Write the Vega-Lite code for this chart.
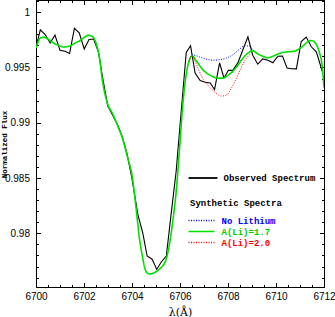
{
  "$schema": "https://vega.github.io/schema/vega-lite/v6.json",
  "autosize": {"type": "none"},
  "padding": {"left": 36, "top": 0, "right": 11, "bottom": 30},
  "width": 288,
  "height": 287,
  "background": "white",
  "config": {
    "view": {"stroke": "black", "strokeWidth": 1},
    "axis": {"grid": false, "domain": false, "tickColor": "black", "tickWidth": 1, "labelColor": "black", "titleColor": "black"}
  },
  "datasets": {
    "obs": [
      {"w": 6700.00, "f": 0.99683, "s": "Observed Spectrum"},
      {"w": 6700.18, "f": 0.99841, "s": "Observed Spectrum"},
      {"w": 6700.38, "f": 0.99798, "s": "Observed Spectrum"},
      {"w": 6700.59, "f": 0.99721, "s": "Observed Spectrum"},
      {"w": 6700.79, "f": 0.99793, "s": "Observed Spectrum"},
      {"w": 6701.00, "f": 0.99656, "s": "Observed Spectrum"},
      {"w": 6701.21, "f": 0.99647, "s": "Observed Spectrum"},
      {"w": 6701.40, "f": 0.99627, "s": "Observed Spectrum"},
      {"w": 6701.60, "f": 0.99854, "s": "Observed Spectrum"},
      {"w": 6701.80, "f": 0.99814, "s": "Observed Spectrum"},
      {"w": 6702.01, "f": 0.99667, "s": "Observed Spectrum"},
      {"w": 6702.21, "f": 0.99753, "s": "Observed Spectrum"},
      {"w": 6702.40, "f": 0.99757, "s": "Observed Spectrum"},
      {"w": 6702.60, "f": 0.99642, "s": "Observed Spectrum"},
      {"w": 6702.79, "f": 0.99390, "s": "Observed Spectrum"},
      {"w": 6702.99, "f": 0.99150, "s": "Observed Spectrum"},
      {"w": 6703.19, "f": 0.99070, "s": "Observed Spectrum"},
      {"w": 6703.39, "f": 0.98985, "s": "Observed Spectrum"},
      {"w": 6703.59, "f": 0.98877, "s": "Observed Spectrum"},
      {"w": 6703.79, "f": 0.98723, "s": "Observed Spectrum"},
      {"w": 6703.99, "f": 0.98507, "s": "Observed Spectrum"},
      {"w": 6704.24, "f": 0.98174, "s": "Observed Spectrum"},
      {"w": 6704.45, "f": 0.98003, "s": "Observed Spectrum"},
      {"w": 6704.63, "f": 0.97795, "s": "Observed Spectrum"},
      {"w": 6704.84, "f": 0.97766, "s": "Observed Spectrum"},
      {"w": 6705.03, "f": 0.97674, "s": "Observed Spectrum"},
      {"w": 6705.22, "f": 0.97741, "s": "Observed Spectrum"},
      {"w": 6705.43, "f": 0.97795, "s": "Observed Spectrum"},
      {"w": 6705.63, "f": 0.98174, "s": "Observed Spectrum"},
      {"w": 6705.84, "f": 0.98561, "s": "Observed Spectrum"},
      {"w": 6706.05, "f": 0.99102, "s": "Observed Spectrum"},
      {"w": 6706.26, "f": 0.99636, "s": "Observed Spectrum"},
      {"w": 6706.44, "f": 0.99696, "s": "Observed Spectrum"},
      {"w": 6706.63, "f": 0.99450, "s": "Observed Spectrum"},
      {"w": 6706.84, "f": 0.99381, "s": "Observed Spectrum"},
      {"w": 6707.05, "f": 0.99366, "s": "Observed Spectrum"},
      {"w": 6707.26, "f": 0.99360, "s": "Observed Spectrum"},
      {"w": 6707.44, "f": 0.99300, "s": "Observed Spectrum"},
      {"w": 6707.65, "f": 0.99541, "s": "Observed Spectrum"},
      {"w": 6707.83, "f": 0.99405, "s": "Observed Spectrum"},
      {"w": 6708.02, "f": 0.99474, "s": "Observed Spectrum"},
      {"w": 6708.20, "f": 0.99474, "s": "Observed Spectrum"},
      {"w": 6708.41, "f": 0.99541, "s": "Observed Spectrum"},
      {"w": 6708.62, "f": 0.99660, "s": "Observed Spectrum"},
      {"w": 6708.83, "f": 0.99777, "s": "Observed Spectrum"},
      {"w": 6709.03, "f": 0.99611, "s": "Observed Spectrum"},
      {"w": 6709.24, "f": 0.99530, "s": "Observed Spectrum"},
      {"w": 6709.45, "f": 0.99577, "s": "Observed Spectrum"},
      {"w": 6709.66, "f": 0.99566, "s": "Observed Spectrum"},
      {"w": 6709.87, "f": 0.99543, "s": "Observed Spectrum"},
      {"w": 6710.08, "f": 0.99602, "s": "Observed Spectrum"},
      {"w": 6710.27, "f": 0.99604, "s": "Observed Spectrum"},
      {"w": 6710.46, "f": 0.99495, "s": "Observed Spectrum"},
      {"w": 6710.65, "f": 0.99489, "s": "Observed Spectrum"},
      {"w": 6710.85, "f": 0.99487, "s": "Observed Spectrum"},
      {"w": 6711.05, "f": 0.99735, "s": "Observed Spectrum"},
      {"w": 6711.26, "f": 0.99775, "s": "Observed Spectrum"},
      {"w": 6711.47, "f": 0.99687, "s": "Observed Spectrum"},
      {"w": 6711.68, "f": 0.99642, "s": "Observed Spectrum"},
      {"w": 6711.95, "f": 0.99450, "s": "Observed Spectrum"}
    ],
    "blue": [
      {"w": 6706.367, "f": 0.99552, "s": "No Lithium"},
      {"w": 6706.508, "f": 0.99615, "s": "No Lithium"},
      {"w": 6706.675, "f": 0.99606, "s": "No Lithium"},
      {"w": 6706.813, "f": 0.99595, "s": "No Lithium"},
      {"w": 6707.092, "f": 0.99575, "s": "No Lithium"},
      {"w": 6707.367, "f": 0.99566, "s": "No Lithium"},
      {"w": 6707.646, "f": 0.99570, "s": "No Lithium"},
      {"w": 6707.925, "f": 0.99584, "s": "No Lithium"},
      {"w": 6708.200, "f": 0.99615, "s": "No Lithium"},
      {"w": 6708.479, "f": 0.99665, "s": "No Lithium"},
      {"w": 6708.688, "f": 0.99696, "s": "No Lithium"},
      {"w": 6708.896, "f": 0.99692, "s": "No Lithium"},
      {"w": 6709.033, "f": 0.99660, "s": "No Lithium"},
      {"w": 6709.175, "f": 0.99630, "s": "No Lithium"}
    ],
    "green": [
      {"w": 6700.000, "f": 0.99676, "s": "A(Li)=1.7"},
      {"w": 6700.175, "f": 0.99764, "s": "A(Li)=1.7"},
      {"w": 6700.313, "f": 0.99775, "s": "A(Li)=1.7"},
      {"w": 6700.479, "f": 0.99759, "s": "A(Li)=1.7"},
      {"w": 6700.729, "f": 0.99721, "s": "A(Li)=1.7"},
      {"w": 6700.938, "f": 0.99701, "s": "A(Li)=1.7"},
      {"w": 6701.146, "f": 0.99685, "s": "A(Li)=1.7"},
      {"w": 6701.425, "f": 0.99696, "s": "A(Li)=1.7"},
      {"w": 6701.646, "f": 0.99723, "s": "A(Li)=1.7"},
      {"w": 6701.842, "f": 0.99744, "s": "A(Li)=1.7"},
      {"w": 6702.021, "f": 0.99773, "s": "A(Li)=1.7"},
      {"w": 6702.188, "f": 0.99791, "s": "A(Li)=1.7"},
      {"w": 6702.354, "f": 0.99780, "s": "A(Li)=1.7"},
      {"w": 6702.533, "f": 0.99696, "s": "A(Li)=1.7"},
      {"w": 6702.646, "f": 0.99588, "s": "A(Li)=1.7"},
      {"w": 6702.742, "f": 0.99420, "s": "A(Li)=1.7"},
      {"w": 6702.979, "f": 0.99174, "s": "A(Li)=1.7"},
      {"w": 6703.188, "f": 0.99084, "s": "A(Li)=1.7"},
      {"w": 6703.396, "f": 0.98976, "s": "A(Li)=1.7"},
      {"w": 6703.604, "f": 0.98859, "s": "A(Li)=1.7"},
      {"w": 6703.813, "f": 0.98688, "s": "A(Li)=1.7"},
      {"w": 6704.008, "f": 0.98516, "s": "A(Li)=1.7"},
      {"w": 6704.175, "f": 0.98219, "s": "A(Li)=1.7"},
      {"w": 6704.313, "f": 0.97949, "s": "A(Li)=1.7"},
      {"w": 6704.438, "f": 0.97787, "s": "A(Li)=1.7"},
      {"w": 6704.521, "f": 0.97697, "s": "A(Li)=1.7"},
      {"w": 6704.604, "f": 0.97647, "s": "A(Li)=1.7"},
      {"w": 6704.729, "f": 0.97633, "s": "A(Li)=1.7"},
      {"w": 6704.854, "f": 0.97638, "s": "A(Li)=1.7"},
      {"w": 6705.021, "f": 0.97656, "s": "A(Li)=1.7"},
      {"w": 6705.217, "f": 0.97692, "s": "A(Li)=1.7"},
      {"w": 6705.425, "f": 0.97768, "s": "A(Li)=1.7"},
      {"w": 6705.563, "f": 0.97904, "s": "A(Li)=1.7"},
      {"w": 6705.700, "f": 0.98111, "s": "A(Li)=1.7"},
      {"w": 6705.842, "f": 0.98381, "s": "A(Li)=1.7"},
      {"w": 6705.979, "f": 0.98760, "s": "A(Li)=1.7"},
      {"w": 6706.117, "f": 0.99165, "s": "A(Li)=1.7"},
      {"w": 6706.258, "f": 0.99435, "s": "A(Li)=1.7"},
      {"w": 6706.367, "f": 0.99552, "s": "A(Li)=1.7"},
      {"w": 6706.508, "f": 0.99606, "s": "A(Li)=1.7"},
      {"w": 6706.675, "f": 0.99561, "s": "A(Li)=1.7"},
      {"w": 6706.950, "f": 0.99480, "s": "A(Li)=1.7"},
      {"w": 6707.146, "f": 0.99444, "s": "A(Li)=1.7"},
      {"w": 6707.367, "f": 0.99417, "s": "A(Li)=1.7"},
      {"w": 6707.563, "f": 0.99404, "s": "A(Li)=1.7"},
      {"w": 6707.783, "f": 0.99404, "s": "A(Li)=1.7"},
      {"w": 6707.979, "f": 0.99426, "s": "A(Li)=1.7"},
      {"w": 6708.188, "f": 0.99462, "s": "A(Li)=1.7"},
      {"w": 6708.396, "f": 0.99516, "s": "A(Li)=1.7"},
      {"w": 6708.604, "f": 0.99579, "s": "A(Li)=1.7"},
      {"w": 6708.825, "f": 0.99629, "s": "A(Li)=1.7"},
      {"w": 6709.033, "f": 0.99651, "s": "A(Li)=1.7"},
      {"w": 6709.229, "f": 0.99624, "s": "A(Li)=1.7"},
      {"w": 6709.450, "f": 0.99602, "s": "A(Li)=1.7"},
      {"w": 6709.658, "f": 0.99588, "s": "A(Li)=1.7"},
      {"w": 6709.867, "f": 0.99602, "s": "A(Li)=1.7"},
      {"w": 6710.063, "f": 0.99620, "s": "A(Li)=1.7"},
      {"w": 6710.283, "f": 0.99636, "s": "A(Li)=1.7"},
      {"w": 6710.521, "f": 0.99642, "s": "A(Li)=1.7"},
      {"w": 6710.771, "f": 0.99647, "s": "A(Li)=1.7"},
      {"w": 6710.938, "f": 0.99665, "s": "A(Li)=1.7"},
      {"w": 6711.117, "f": 0.99692, "s": "A(Li)=1.7"},
      {"w": 6711.271, "f": 0.99723, "s": "A(Li)=1.7"},
      {"w": 6711.396, "f": 0.99743, "s": "A(Li)=1.7"},
      {"w": 6711.521, "f": 0.99741, "s": "A(Li)=1.7"},
      {"w": 6711.675, "f": 0.99710, "s": "A(Li)=1.7"},
      {"w": 6711.813, "f": 0.99633, "s": "A(Li)=1.7"},
      {"w": 6711.917, "f": 0.99525, "s": "A(Li)=1.7"},
      {"w": 6712.000, "f": 0.99318, "s": "A(Li)=1.7"}
    ],
    "red": [
      {"w": 6706.367, "f": 0.99552, "s": "A(Li)=2.0"},
      {"w": 6706.508, "f": 0.99606, "s": "A(Li)=2.0"},
      {"w": 6706.675, "f": 0.99534, "s": "A(Li)=2.0"},
      {"w": 6706.813, "f": 0.99462, "s": "A(Li)=2.0"},
      {"w": 6706.979, "f": 0.99390, "s": "A(Li)=2.0"},
      {"w": 6707.158, "f": 0.99341, "s": "A(Li)=2.0"},
      {"w": 6707.367, "f": 0.99291, "s": "A(Li)=2.0"},
      {"w": 6707.521, "f": 0.99264, "s": "A(Li)=2.0"},
      {"w": 6707.717, "f": 0.99241, "s": "A(Li)=2.0"},
      {"w": 6707.925, "f": 0.99250, "s": "A(Li)=2.0"},
      {"w": 6708.133, "f": 0.99309, "s": "A(Li)=2.0"},
      {"w": 6708.342, "f": 0.99399, "s": "A(Li)=2.0"},
      {"w": 6708.550, "f": 0.99498, "s": "A(Li)=2.0"},
      {"w": 6708.758, "f": 0.99579, "s": "A(Li)=2.0"},
      {"w": 6708.896, "f": 0.99615, "s": "A(Li)=2.0"},
      {"w": 6709.033, "f": 0.99647, "s": "A(Li)=2.0"}
    ]
  },
  "layer": [
    {
      "mark": {"type": "rule", "color": "black", "strokeWidth": 1, "strokeDash": [1, 2]},
      "encoding": {
        "x": {"datum": 6700, "type": "quantitative", "scale": {"domain": [6700, 6712], "nice": false, "zero": false},
              "axis": {"orient": "bottom", "values": [6700, 6700.5, 6701, 6701.5, 6702, 6702.5, 6703, 6703.5, 6704, 6704.5, 6705, 6705.5, 6706, 6706.5, 6707, 6707.5, 6708, 6708.5, 6709, 6709.5, 6710, 6710.5, 6711, 6711.5, 6712], "offset": -2.5, "tickSize": 2.5, "labels": false, "title": null}},
        "x2": {"datum": 6712},
        "y": {"datum": 1, "type": "quantitative", "scale": {"domain": [0.97515, 1.0011], "nice": false, "zero": false},
              "axis": {"orient": "left", "values": [0.976, 0.977, 0.978, 0.979, 0.98, 0.981, 0.982, 0.983, 0.984, 0.985, 0.986, 0.987, 0.988, 0.989, 0.99, 0.991, 0.992, 0.993, 0.994, 0.995, 0.996, 0.997, 0.998, 0.999, 1, 1.001], "offset": -2.5, "tickSize": 2.5, "labels": false, "title": null}}
      }
    },
    {
      "data": {"name": "obs"},
      "mark": {"type": "line", "strokeWidth": 1.1, "clip": true},
      "encoding": {
        "x": {"field": "w", "type": "quantitative", "scale": {"domain": [6700, 6712], "nice": false, "zero": false},
              "axis": {"orient": "bottom", "values": [6700, 6702, 6704, 6706, 6708, 6710, 6712], "format": "d", "offset": -4.5, "tickSize": 4.5, "labelPadding": 4, "labelFont": "Liberation Sans", "labelFontSize": 10, "labelFlush": false, "labelOverlap": false, "labelBound": false,
                       "title": "λ(Å)", "titleFont": "DejaVu Serif", "titleFontSize": 11, "titleFontWeight": "normal", "titlePadding": 5}},
        "y": {"field": "f", "type": "quantitative", "scale": {"domain": [0.97515, 1.0011], "nice": false, "zero": false},
              "axis": {"orient": "left", "values": [0.98, 0.985, 0.99, 0.995, 1], "format": ".3~f", "offset": -4.5, "tickSize": 4.5, "labelPadding": 6.5, "labelFont": "Liberation Sans", "labelFontSize": 10, "labelOverlap": false, "labelBound": false, "labelFlush": false,
                       "title": "Normalized Flux", "titleFont": "Liberation Mono", "titleFontSize": 7.5, "titleFontWeight": "bold", "titleX": -36, "titleY": 144, "titleBaseline": "middle", "titleAngle": 270, "titleAlign": "center"}},
        "color": {"field": "s", "type": "nominal", "scale": {"domain": ["Observed Spectrum"], "range": ["black"]},
                  "legend": {"orient": "none", "legendX": 154, "legendY": 173, "title": null, "padding": 0,
                             "labelFont": "Liberation Mono", "labelFontSize": 9, "labelFontWeight": "bold", "labelColor": "black",
                             "symbolType": "M-4,0H4", "symbolSize": 52, "symbolStrokeWidth": 1.8, "symbolOffset": 8, "labelOffset": 15.5}}
      }
    },
    {
      "layer": [
        {
          "data": {"name": "blue"},
          "mark": {"type": "line", "strokeWidth": 1, "interpolate": "monotone", "clip": true},
          "encoding": {
            "x": {"field": "w", "type": "quantitative", "scale": {"domain": [6700, 6712], "nice": false, "zero": false},
                  "axis": {"orient": "top", "values": [6700, 6702, 6704, 6706, 6708, 6710, 6712], "offset": -4.5, "tickSize": 4.5, "labels": false, "title": null}},
            "y": {"field": "f", "type": "quantitative", "scale": {"domain": [0.97515, 1.0011], "nice": false, "zero": false},
                  "axis": {"orient": "right", "values": [0.98, 0.985, 0.99, 0.995, 1], "offset": -4.5, "tickSize": 4.5, "labels": false, "title": null}},
            "color": {"field": "s", "type": "nominal", "title": "Synthetic Spectra",
                      "scale": {"domain": ["No Lithium", "A(Li)=1.7", "A(Li)=2.0"], "range": ["#0000ff", "#00e000", "#ff0000"]},
                      "legend": {"orient": "none", "legendX": 154, "legendY": 199, "padding": 0,
                                 "titleFont": "Liberation Mono", "titleFontSize": 9, "titleFontWeight": "bold", "titleColor": "black", "titlePadding": 8, "titleAnchor": "start",
                                 "labelFont": "Liberation Mono", "labelFontSize": 9, "labelFontWeight": "bold",
                                 "labelColor": {"expr": "datum.label === 'No Lithium' ? '#0000ff' : (datum.label === 'A(Li)=1.7' ? '#00cc00' : '#ff0000')"},
                                 "symbolType": "M-4,0H4", "symbolSize": 42, "symbolStrokeWidth": 1.5, "symbolOffset": 7, "labelOffset": 15.5, "rowPadding": 1}},
            "strokeDash": {"field": "s", "type": "nominal", "title": "Synthetic Spectra",
                           "scale": {"domain": ["No Lithium", "A(Li)=1.7", "A(Li)=2.0"], "range": [[1, 1.5], [1, 0], [1, 1.5]]}}
          }
        },
        {
          "data": {"name": "green"},
          "mark": {"type": "line", "strokeWidth": 1.6, "interpolate": "monotone", "clip": true},
          "encoding": {
            "x": {"field": "w", "type": "quantitative", "scale": {"domain": [6700, 6712], "nice": false, "zero": false},
                  "axis": {"orient": "top", "values": [6700, 6700.5, 6701, 6701.5, 6702, 6702.5, 6703, 6703.5, 6704, 6704.5, 6705, 6705.5, 6706, 6706.5, 6707, 6707.5, 6708, 6708.5, 6709, 6709.5, 6710, 6710.5, 6711, 6711.5, 6712], "offset": -2.5, "tickSize": 2.5, "labels": false, "title": null}},
            "y": {"field": "f", "type": "quantitative", "scale": {"domain": [0.97515, 1.0011], "nice": false, "zero": false},
                  "axis": {"orient": "right", "values": [0.976, 0.977, 0.978, 0.979, 0.98, 0.981, 0.982, 0.983, 0.984, 0.985, 0.986, 0.987, 0.988, 0.989, 0.99, 0.991, 0.992, 0.993, 0.994, 0.995, 0.996, 0.997, 0.998, 0.999, 1, 1.001], "offset": -2.5, "tickSize": 2.5, "labels": false, "title": null}},
            "color": {"field": "s", "type": "nominal", "title": "Synthetic Spectra",
                      "scale": {"domain": ["No Lithium", "A(Li)=1.7", "A(Li)=2.0"], "range": ["#0000ff", "#00e000", "#ff0000"]}},
            "strokeDash": {"field": "s", "type": "nominal", "title": "Synthetic Spectra",
                           "scale": {"domain": ["No Lithium", "A(Li)=1.7", "A(Li)=2.0"], "range": [[1, 1.5], [1, 0], [1, 1.5]]}}
          }
        },
        {
          "data": {"name": "red"},
          "mark": {"type": "line", "strokeWidth": 1, "interpolate": "monotone", "clip": true},
          "encoding": {
            "x": {"field": "w", "type": "quantitative", "scale": {"domain": [6700, 6712], "nice": false, "zero": false}, "axis": null},
            "y": {"field": "f", "type": "quantitative", "scale": {"domain": [0.97515, 1.0011], "nice": false, "zero": false}, "axis": null},
            "color": {"field": "s", "type": "nominal", "title": "Synthetic Spectra",
                      "scale": {"domain": ["No Lithium", "A(Li)=1.7", "A(Li)=2.0"], "range": ["#0000ff", "#00e000", "#ff0000"]}},
            "strokeDash": {"field": "s", "type": "nominal", "title": "Synthetic Spectra",
                           "scale": {"domain": ["No Lithium", "A(Li)=1.7", "A(Li)=2.0"], "range": [[1, 1.5], [1, 0], [1, 1.5]]}}
          }
        }
      ],
      "resolve": {"axis": {"x": "independent", "y": "independent"}}
    }
  ],
  "resolve": {"scale": {"color": "independent", "strokeDash": "independent"}, "axis": {"x": "independent", "y": "independent"}}
}
